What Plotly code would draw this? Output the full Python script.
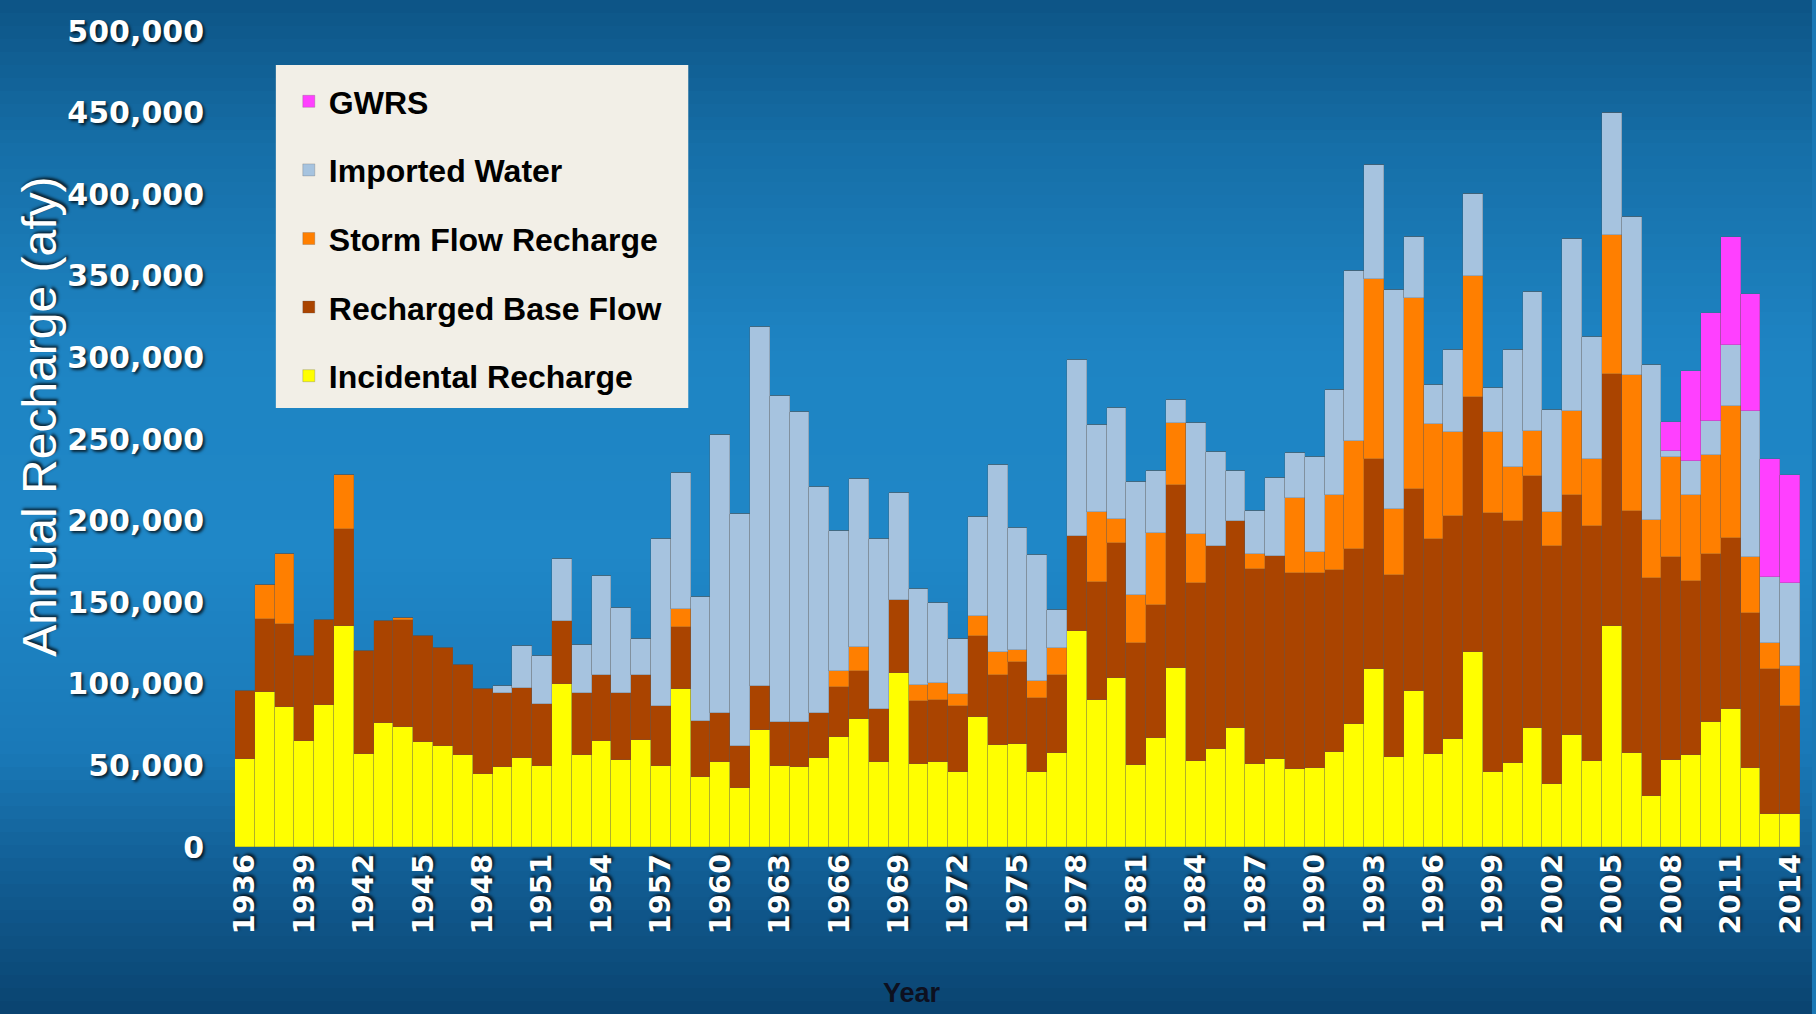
import plotly.graph_objects as go

years = list(range(1936, 2015))

# acre-feet per year
incidental = [
    54000, 95100, 85700, 64700, 86800, 135400, 57200, 76000, 73400, 64300,
    61600, 56100, 45000, 49100, 54600, 49800, 99900, 56100, 65100, 53500,
    65400, 49600, 96900, 42600, 51800, 36200, 71700, 49600, 49000, 54800,
    67100, 78700, 52000, 106700, 50700, 51800, 45900, 79800, 62700, 63200,
    45700, 57300, 132200, 89900, 103600, 50200, 66700, 109700, 52400, 60000,
    72800, 50900, 53900, 47800, 48700, 58200, 75200, 109100, 55100, 95300,
    56700, 66100, 119400, 45700, 51500, 73100, 38400, 68900, 52700, 135300,
    57300, 31100, 53600, 56400, 76800, 84700, 48400, 20400, 20400,
]
base_flow = [
    41500, 44600, 51000, 52300, 52500, 59500, 63100, 62700, 65900, 65200,
    60600, 55200, 51600, 45300, 43100, 38100, 38500, 38300, 40300, 40900,
    40000, 36500, 37800, 34400, 30600, 25900, 27100, 26900, 27500, 27600,
    30900, 28900, 32600, 44600, 38900, 38300, 40400, 49200, 42900, 50300,
    45700, 48400, 58500, 72200, 82600, 75000, 81700, 111900, 109400, 124700,
    127100, 119700, 124300, 119800, 119500, 111500, 107600, 128600, 111600, 124100,
    132300, 136800, 156400, 159100, 148100, 154200, 146000, 146500, 143900, 154800,
    148400, 133500, 124100, 106300, 102700, 104900, 95100, 88700, 65800,
]
storm_flow = [
    0, 20800, 43100, 0, 0, 33000, 0, 0, 1300, 0,
    0, 0, 0, 0, 0, 0, 0, 0, 0, 0,
    0, 0, 10900, 0, 0, 0, 0, 0, 0, 0,
    10000, 14900, 0, 0, 9400, 10300, 7500, 12700, 14000, 7200,
    10400, 16200, 0, 43000, 14600, 29000, 44200, 38400, 30200, 0,
    0, 9200, 0, 46000, 12800, 45700, 65900, 110600, 40500, 117300,
    70000, 51300, 74000, 49400, 33200, 27500, 20700, 51900, 41100, 84700,
    83800, 35600, 61200, 52700, 60900, 80400, 34200, 16100, 24700,
]
imported = [
    0, 0, 0, 0, 0, 0, 0, 0, 0, 0,
    0, 0, 0, 4000, 25200, 28900, 38100, 29100, 60800, 52100,
    22100, 102900, 83400, 76300, 170300, 142000, 219900, 200000, 190000, 137900,
    85800, 102800, 104200, 65900, 58900, 49400, 33900, 60600, 114700, 74500,
    77100, 23100, 107900, 53300, 68300, 69500, 37800, 13600, 67700, 57600,
    30200, 25900, 47600, 28100, 58200, 64400, 104500, 69500, 134100, 36900,
    23800, 50600, 50400, 27100, 71700, 85300, 62500, 105400, 74700, 74700,
    96300, 95100, 4000, 21400, 20800, 37500, 89600, 40000, 50900,
]
gwrs = [0] * 72 + [17700, 54800, 66100, 66100, 71600, 72800, 66100]

y_ticks = list(range(0, 500001, 50000))
x_ticks = list(range(1936, 2015, 3))

W, H = 1816, 1014
L, R, T, B = 235, 10, 31, 167
plot_w, plot_h = W - L - R, H - T - B


def px_x(px):
    return (px - L) / plot_w


def px_y(py):
    return (H - B - py) / plot_h


def hex_rgb(h):
    h = h.lstrip("#")
    return [int(h[i:i + 2], 16) for i in (0, 2, 4)]


# background gradient, pixel row -> colour
stops = [(0, "#0d5485"), (150, "#166fa8"), (350, "#1e84c3"), (550, "#1f87c7"),
         (750, "#1a79b8"), (850, "#13629a"), (1014, "#0a436f")]


def grad(py):
    for (y0, c0), (y1, c1) in zip(stops, stops[1:]):
        if y0 <= py <= y1:
            t = (py - y0) / (y1 - y0)
            a, b = hex_rgb(c0), hex_rgb(c1)
            return "rgb(%d,%d,%d)" % tuple(round(a[i] + (b[i] - a[i]) * t) for i in range(3))
    return stops[-1][1]


shapes = []
step = 13
for py in range(0, H, step):
    shapes.append(dict(type="rect", xref="paper", yref="paper", layer="below",
                       x0=px_x(-2), x1=px_x(W + 2), y0=px_y(py + step + 1), y1=px_y(py),
                       fillcolor=grad(py + step / 2), line=dict(width=0)))

# legend panel
shapes.append(dict(type="rect", xref="paper", yref="paper", layer="above",
                   x0=px_x(276), x1=px_x(690), y0=px_y(408), y1=px_y(65),
                   fillcolor="#f2efe7", line=dict(width=0)))

series = [
    ("Incidental Recharge", incidental, "#ffff00", 5),
    ("Recharged Base Flow", base_flow, "#aa4400", 4),
    ("Storm Flow Recharge", storm_flow, "#ff7f00", 3),
    ("Imported Water", imported, "#a6c3df", 2),
    ("GWRS", gwrs, "#ff40ff", 1),
]

fig = go.Figure()
for name, vals, color, rank in series:
    fig.add_trace(go.Bar(x=years, y=vals, name=name, legendgroup=name, legendrank=rank, width=1,
                         marker=dict(color=color, line=dict(width=0.6, color="rgba(90,90,90,0.45)"))))

shadow = "2px 2px 3px rgba(0,0,0,0.75)"
tick_font = dict(family="DejaVu Sans", size=29, color="white", weight="bold", shadow=shadow)

fig.update_layout(
    width=W, height=H,
    margin=dict(l=L, r=R, t=T, b=B),
    barmode="stack", bargap=0,
    paper_bgcolor="#1a78b5", plot_bgcolor="rgba(0,0,0,0)",
    shapes=shapes,
    showlegend=True,
    legend=dict(x=px_x(289), y=px_y(74), xanchor="left", yanchor="top",
                traceorder="grouped", tracegroupgap=24,
                bgcolor="rgba(0,0,0,0)", borderwidth=0,
                font=dict(family="Liberation Sans", size=32, color="black", weight="bold")),
    xaxis=dict(range=[1935.5, 2014.5], tickvals=x_ticks, tickangle=-90,
               tickfont=tick_font, showgrid=False, zeroline=False, ticks=""),
    yaxis=dict(range=[0, 500000], tickvals=y_ticks, tickformat=",",
               tickfont=dict(tick_font, size=30), ticklabelstandoff=30,
               showgrid=False, zeroline=False, ticks=""),
    annotations=[
        dict(text="Annual Recharge (afy)", textangle=-90, xref="paper", yref="paper",
             x=px_x(38), y=px_y(417), xanchor="center", yanchor="middle", showarrow=False,
             font=dict(family="Liberation Sans", size=48, color="white", shadow=shadow)),
        dict(text="Year", xref="paper", yref="paper", x=px_x(915), y=px_y(993),
             xanchor="center", yanchor="middle", showarrow=False,
             font=dict(family="Liberation Sans", size=27, color="#0d1020", weight="bold")),
    ],
)

fig.write_html("out.html", config={"displayModeBar": False},
               post_script="document.body.style.margin='0';")
